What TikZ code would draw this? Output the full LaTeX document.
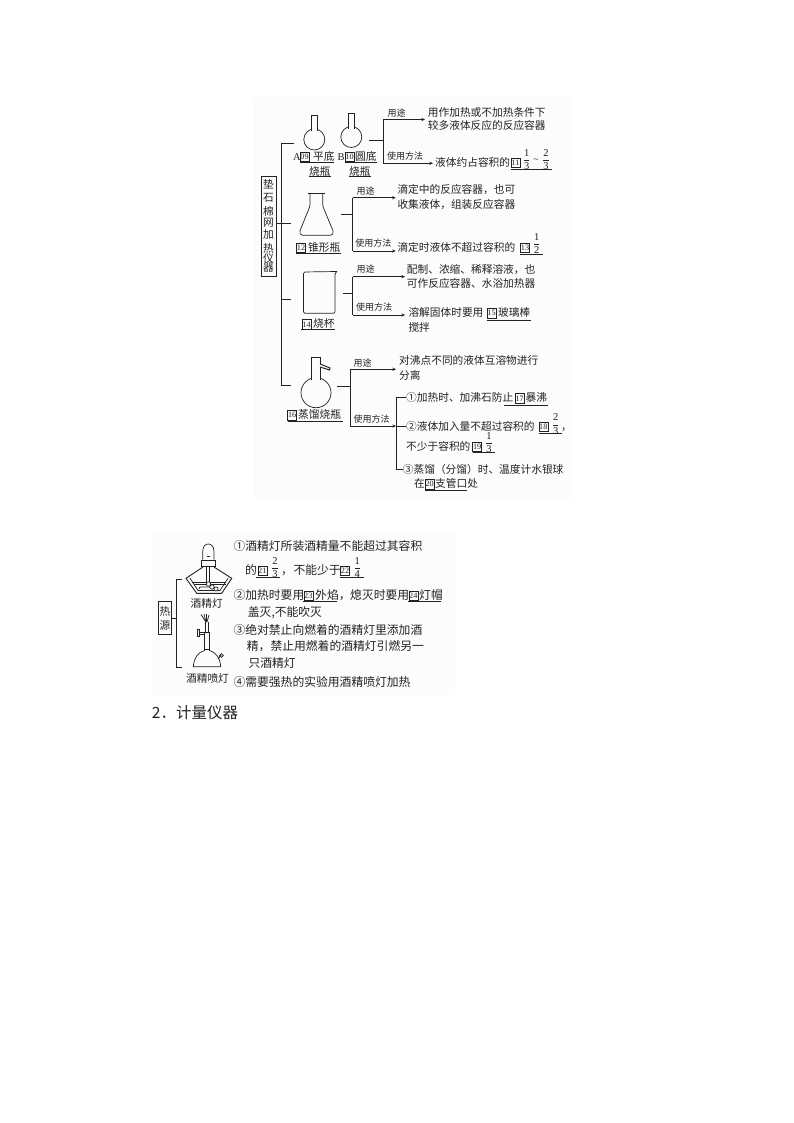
\documentclass[tikz,border=0pt]{standalone}
\usepackage{amsmath}
\usepackage{fontspec}
\setmainfont{Noto Sans CJK SC}
\newfontfamily\cjkbig{Noto Sans CJK SC}
\newfontfamily\digs{Liberation Serif}
\newcommand{\frx}[2]{$\genfrac{}{}{0.6pt}{0}{\mbox{\digs\fontsize{10.5}{11}\selectfont #1}}{\mbox{\digs\fontsize{10.5}{11}\selectfont #2}}$}
\usetikzlibrary{arrows.meta}
\definecolor{bgtint}{HTML}{FCFCFC}
\definecolor{ink}{HTML}{222222}
\tikzset{
  ln/.style={draw=ink,line width=0.7pt},
  arr/.style={ln,-{Stealth[length=3.6pt,width=3.2pt]}},
  ul/.style={draw=ink,line width=0.7pt},
  txt/.style={anchor=west,inner sep=0pt,text=ink,text height=8.6pt,text depth=1.4pt,font=\fontsize{10.7}{12}\selectfont},
  wide/.style={txt,font=\fontsize{11.8}{13}\selectfont},
  lab/.style={inner sep=0pt,text=ink,font=\fontsize{9}{10}\selectfont},
  ctr/.style={inner sep=0pt,text=ink,font=\fontsize{10.7}{12}\selectfont},
  nbox/.style={draw=ink,line width=0.5pt,inner sep=0pt,minimum width=9pt,minimum height=9.5pt,text=ink,font=\digs\fontsize{8.2}{8.5}\selectfont},
  frc/.style={inner sep=0pt,text=ink},
  latin/.style={anchor=west,inner sep=0pt,text=ink,font=\digs\fontsize{10.5}{11}\selectfont},
  titlebox/.style={draw=ink,line width=0.7pt,inner sep=0pt}
}
\begin{document}
\begin{tikzpicture}[x=1pt,y=-1pt]
\useasboundingbox (0,0) rectangle (794,1123);
\fill[white] (0,0) rectangle (794,1123);
\fill[bgtint] (254,97) rectangle (571,500);
\fill[bgtint] (152,533) rectangle (455,695);

% main box and spine
\node[titlebox,minimum width=15pt,minimum height=99.5pt] (mainbox) at (268.5,226.5) {};
\foreach \c/\yy/\n in {垫/184/a,石/198/b,棉/211/c,网/223/d,加/235/e,热/248/f,仪/258/g,器/268/h}
  \node[ctr] (m\n) at (268.5,\yy) {\c};
\coordinate (spT) at (294,143.3);
\coordinate (spTc) at (281,143.3);
\coordinate (spB) at (290.7,385);
\coordinate (spBc) at (281,385);
\coordinate (sp2c) at (281,223.3);
\coordinate (sp2) at (290.7,223.3);
\coordinate (sp3c) at (281,299);
\coordinate (sp3) at (291,299);
\draw[ln] (spT) -- (spTc) -- (spBc) -- (spB);
\draw[ln] (mainbox.east |- sp2) -- (sp2);
\draw[ln] (sp3c) -- (sp3);

% flasks A and B
\draw[ln] (314.3,139.5) circle (10.5);
\draw[ln,fill=bgtint] (311.7,131) -- (311.7,115) -- (317.3,115) -- (317.3,131);
\draw[ln] (351.3,137) circle (10.5);
\draw[ln,fill=bgtint] (348.5,129) -- (348.5,113.5) -- (354.2,113.5) -- (354.2,129);
\node[latin] (lA) at (293,157) {A};
\node[nbox] (b09) at (304.5,157) {09};
\node[txt] (lA2) at (313,157) {平底};
\node[txt] (lA3) at (309,172) {烧瓶};
\node[latin] (lB) at (337.3,157) {B};
\node[nbox] (b10) at (349.5,157) {10};
\node[txt] (lB2) at (355,157) {圆底};
\node[txt] (lB3) at (349,172) {烧瓶};
\draw[ul] (300,162.5) -- (334,162.5);
\draw[ul] (345,162.5) -- (377,162.5);
\draw[ul] (309,176.5) -- (331,176.5);
\draw[ul] (349,176.5) -- (371,176.5);

% group 1 connectors
\coordinate (g1s) at (369,140);
\coordinate (g1m) at (383.3,140);
\coordinate (g1t) at (383.3,119.5);
\coordinate (g1b) at (383.3,163.3);
\node[txt] (t1a) at (427.7,112.7) {用作加热或不加热条件下};
\node[txt] (t1b) at (427.7,126) {较多液体反应的反应容器};
\node[txt] (t1c) at (435,162.7) {液体约占容积的};
\draw[ln] (g1s) -- (g1m);
\draw[ln] (g1t) -- (g1b);
\coordinate (g1ta) at (425,119.5);
\coordinate (g1ba) at (433,163.3);
\draw[arr] (g1t) -- (g1ta);
\draw[arr] (g1b) -- (g1ba);
\node[lab] (l1a) at (396.7,112.7) {用途};
\node[lab] (l1b) at (405,155.7) {使用方法};
\node[nbox] (b11) at (515.5,162.7) {11};
\node[frc] (f11a) at (526.7,159.5) {\frx{1}{3}};
\node[frc,font=\digs\fontsize{9}{10}\selectfont] (til) at (536,161) {\textasciitilde};
\node[frc] (f11b) at (546,159.5) {\frx{2}{3}};
\draw[ul] (511,169.5) -- (551.7,169.5);

% Erlenmeyer
\draw[ln,line width=1.2pt] (308.3,193.5) -- (325,193.5);
\draw[ln,rounded corners=1.5pt] (310,193.5) -- (310,206) -- (299.5,232) -- (301,235.3) -- (332,235.3) -- (333.5,232) -- (322.7,206) -- (322.7,193.5);
\node[nbox] (b12) at (301,247.7) {12};
\node[txt] (t2l) at (308,247.7) {锥形瓶};
\draw[ul] (296,253.5) -- (341,253.5);
\coordinate (g2s) at (341,214);
\coordinate (g2m) at (352.7,214);
\coordinate (g2t) at (352.7,197.7);
\coordinate (g2b) at (352.7,251);
\coordinate (g2ta) at (395.7,197.7);
\coordinate (g2ba) at (395.7,251);
\draw[ln] (g2s) -- (g2m);
\draw[ln] (g2t) -- (g2b);
\draw[arr] (g2t) -- (g2ta);
\draw[arr] (g2b) -- (g2ba);
\node[lab] (l2a) at (365.7,191) {用途};
\node[lab] (l2b) at (373.3,243.3) {使用方法};
\node[txt] (t2a) at (397.3,190) {滴定中的反应容器，也可};
\node[txt] (t2b) at (397.3,205) {收集液体，组装反应容器};
\node[txt] (t2c) at (397.3,247.7) {滴定时液体不超过容积的};
\node[nbox] (b13) at (525,247.7) {13};
\node[frc] (f13) at (536.7,243.5) {\frx{1}{2}};
\draw[ul] (520,254.3) -- (542.7,254.3);

% beaker
\draw[ln,rounded corners=1.5pt] (337,271.5) -- (335,273) -- (335,313.3) -- (303.5,313.3) -- (303.5,272) -- (337,271.5);
\node[nbox] (b14) at (306.5,324.3) {14};
\node[txt] (t3l) at (313,324.3) {烧杯};
\draw[ul] (301,329.5) -- (334.5,329.5);
\coordinate (g3s) at (343.3,293.3);
\coordinate (g3m) at (352.7,293.3);
\coordinate (g3t) at (352.7,276.7);
\coordinate (g3b) at (352.7,315);
\coordinate (g3ta) at (405,276.7);
\coordinate (g3ba) at (405,315);
\draw[ln] (g3s) -- (g3m);
\draw[ln] (g3t) -- (g3b);
\draw[arr] (g3t) -- (g3ta);
\draw[arr] (g3b) -- (g3ba);
\node[lab] (l3a) at (365.7,269.3) {用途};
\node[lab] (l3b) at (374,307.3) {使用方法};
\node[txt] (t3a) at (406.7,270) {配制、浓缩、稀释溶液，也};
\node[txt] (t3b) at (406.7,284) {可作反应容器、水浴加热器};
\node[txt] (t3c) at (408.3,313.3) {溶解固体时要用};
\node[nbox] (b15) at (491.5,313.3) {15};
\node[txt] (t3d) at (498,313.3) {玻璃棒};
\draw[ul] (486.5,320.7) -- (531,320.7);
\node[txt] (t3e) at (408.3,328.3) {搅拌};

% distillation flask
\draw[ln] (316,392.7) circle (15);
\draw[ln,fill=bgtint] (311.7,380) -- (311.7,357.3) -- (320,357.3) -- (320,380);
\draw[ln,line width=1pt,fill=bgtint] (320,364) -- (330,368) -- (329.5,370) -- (320,367);
\node[nbox] (b16) at (292.2,415) {16};
\node[txt] (t4l) at (298,415) {蒸馏烧瓶};
\draw[ul] (287.5,421) -- (343,421);
\coordinate (g4s) at (337.3,386);
\coordinate (g4m) at (350,386);
\coordinate (g4t) at (350,369.3);
\coordinate (g4b) at (350,426);
\coordinate (g4ta) at (396,369.3);
\coordinate (g4ba) at (396,426);
\draw[ln] (g4s) -- (g4m);
\draw[ln] (g4t) -- (g4b);
\draw[arr] (g4t) -- (g4ta);
\draw[arr] (g4b) -- (g4ba);
\node[lab] (l4a) at (362.7,362.7) {用途};
\node[lab] (l4b) at (371.7,419) {使用方法};
\node[txt] (t4a) at (399,360.7) {对沸点不同的液体互溶物进行};
\node[txt] (t4b) at (399,375.7) {分离};
\coordinate (br1) at (406,397.7);
\coordinate (br1c) at (396,397.7);
\coordinate (br2) at (406,426);
\coordinate (br3) at (402.7,469);
\coordinate (br3c) at (396,469);
\draw[ln] (br1) -- (br1c) -- (br3c) -- (br3);
\draw[ln] (g4ba) -- (br2);
\node[txt] (t4c) at (406,398.3) {①加热时、加沸石防止};
\node[nbox] (b17) at (519.5,398.3) {17};
\node[txt] (t4d) at (525.5,398.3) {暴沸};
\draw[ul] (504,405) -- (548,405);
\node[txt] (t4e) at (406,426.7) {②液体加入量不超过容积的};
\node[nbox] (b18) at (543.3,426.7) {18};
\node[frc] (f18) at (555.7,424) {\frx{2}{3}};
\node[txt] (t4f) at (561,426.7) {，};
\draw[ul] (539,433.5) -- (562,433.5);
\node[txt] (t4g) at (406,446.7) {不少于容积的};
\node[nbox] (b19) at (477.2,446.7) {19};
\node[frc] (f19) at (489,442.7) {\frx{1}{3}};
\draw[ul] (472.5,452.5) -- (495,452.5);
\node[txt] (t4h) at (402.7,470) {③蒸馏（分馏）时、温度计水银球};
\node[txt] (t4i) at (414,484.3) {在};
\node[nbox] (b20) at (429.7,484.3) {20};
\node[txt] (t4j) at (435,484.3) {支管口处};
\draw[ul] (425,490.3) -- (467,490.3);

% heat sources
\node[titlebox,minimum width=13.4pt,minimum height=32.6pt] (hbox) at (165,618) {};
\node[ctr] (ha) at (165,611.7) {热};
\node[ctr] (hb) at (165,625) {源};
\coordinate (hT) at (182,579);
\coordinate (hTc) at (176.7,579);
\coordinate (hB) at (182,667);
\coordinate (hBc) at (176.7,667);
\draw[ln] (hT) -- (hTc) -- (hBc) -- (hB);
\draw[ln] (hbox.east) -- (hbox.east -| hTc);

% alcohol lamp
\draw[ln] (202.7,559.5) -- (202.7,552) .. controls (202.7,546) and (205.5,544) .. (208.3,544) .. controls (211,544) and (214,546) .. (214,552) -- (214,559.5);
\fill[ink] (206.5,555.5) rectangle (210,557);
\draw[ln,line width=1pt] (200.7,560.5) -- (215.7,560.5);
\draw[ln] (201,560.5) -- (201,566.7) -- (215.5,566.7) -- (215.5,560.5);
\draw[ln,line width=0.9pt] (203,567) -- (186,578.3) -- (196.7,593.3) -- (221.7,593.3) -- (231.7,578.3) -- (214,567);
\draw[ln] (190,578.3) -- (198,590.5) -- (220,590.5) -- (228,578.3);
\draw[ln] (192,582) -- (226,582);
\draw[ln] (194,584) -- (226,584);
\draw[ln] (206.5,567) -- (206.5,582) (209.5,567) -- (209.5,582);
\draw[ln] (199,589) -- (200,587) -- (212,587) -- (213,589);
\draw[ln,fill=bgtint] (208.5,584) circle (2.2);
\draw[ln,fill=bgtint] (212,587) circle (2.2);
\draw[ln,fill=bgtint] (216,589) circle (2);
\node[ctr] (lamp1) at (206.7,603.3) {酒精灯};

% burner
\draw[ln] (206,622) -- (201,614.5) (206,622) -- (204,614) (206.5,622) -- (206.5,614) (207,622) -- (209,615);
\draw[ln] (205,622) -- (205,632) (208,622) -- (208,632);
\draw[ln] (204.3,632) rectangle (209.3,649);
\draw[ln] (197,629.5) rectangle (199.5,636);
\draw[ln] (199.5,632.5) rectangle (204.3,634);
\draw[ln] (204.5,649) -- (204.5,650.5) .. controls (198,652) and (194,658) .. (193.3,666.7) -- (220.7,666.7) .. controls (220,658) and (216,652) .. (209.5,650.5) -- (209.5,649);
\draw[ln,line width=1pt] (218,659) -- (221,655);
\draw[ln] (221.5,655.5) circle (1.8);
\node[ctr] (lamp2) at (207.5,678) {酒精喷灯};

\node[wide] (h1a) at (233.3,547.3) {①酒精灯所装酒精量不能超过其容积};
\node[wide] (h1b) at (245,570.7) {的};
\node[nbox] (b21) at (262.3,570.7) {21};
\node[frc] (f21) at (275,567.7) {\frx{2}{3}};
\node[wide] (h1c) at (281,570.7) {，};
\node[wide] (h1d) at (293.3,570.7) {不能少于};
\node[nbox] (b22) at (345,570.7) {22};
\node[frc] (f22) at (357.3,567.7) {\frx{1}{4}};
\draw[ul] (256,577) -- (280,577);
\draw[ul] (340,577) -- (364,577);
\node[wide] (h2a) at (233.3,595.7) {②加热时要用};
\node[nbox] (b23) at (308.3,595.7) {23};
\node[wide] (h2b) at (315,595.7) {外焰，};
\node[wide] (h2c) at (350,595.7) {熄灭时要用};
\node[nbox] (b24) at (413.3,595.7) {24};
\node[wide] (h2d) at (419,595.7) {灯帽};
\draw[ul] (303.3,601.5) -- (337,601.5);
\draw[ul] (408.3,601.5) -- (441,601.5);
\node[wide] (h2e) at (247.7,613.3) {盖灭,不能吹灭};
\node[wide] (h3a) at (233.3,630.7) {③绝对禁止向燃着的酒精灯里添加酒};
\node[wide] (h3b) at (246.7,646.7) {精，禁止用燃着的酒精灯引燃另一};
\node[wide] (h3c) at (248.3,664.3) {只酒精灯};
\node[wide] (h4) at (233.3,682.7) {④需要强热的实验用酒精喷灯加热};

\node[anchor=west,inner sep=0pt,text=ink,font=\cjkbig\fontsize{15.5}{17}\selectfont] (sec) at (151.7,712.7) {2．计量仪器};
\end{tikzpicture}
\end{document}
